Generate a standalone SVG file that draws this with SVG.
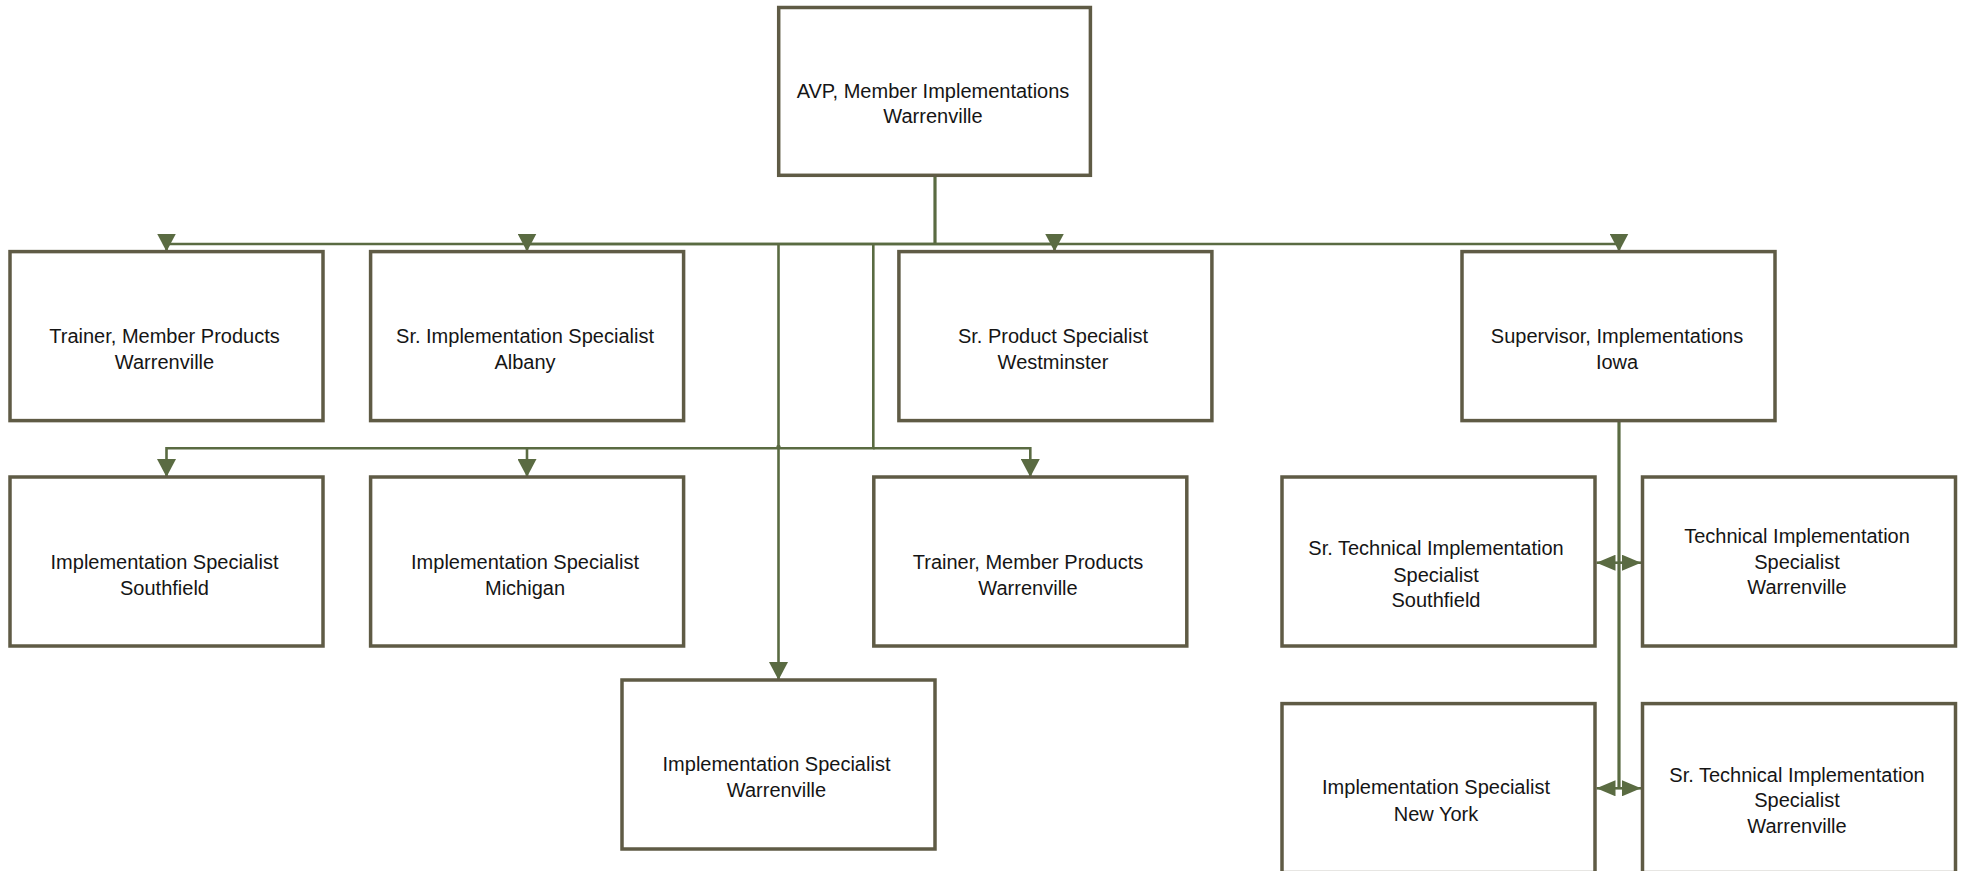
<svg xmlns="http://www.w3.org/2000/svg" width="1963" height="871" viewBox="0 0 1963 871">
<style>
.box{fill:#ffffff;stroke:#5f5b45;stroke-width:3.5}
.lbl{font-family:"Liberation Sans",Arial,sans-serif;font-size:20px;fill:#151515;text-anchor:middle}
.con{fill:none;stroke:#5a6b42;stroke-width:2.6}
.trunk{fill:none;stroke:#5a6b42;stroke-width:3.2}
</style>
<defs>
<marker id="arr" markerUnits="userSpaceOnUse" markerWidth="18" markerHeight="19" viewBox="0 0 17 18" refX="17" refY="9" orient="auto">
<path d="M0,0 L17,9 L0,18 Z" fill="#5a6b42"/>
</marker>
<marker id="arrs" markerUnits="userSpaceOnUse" markerWidth="19" markerHeight="16" viewBox="0 0 19 16" refX="19" refY="8" orient="auto">
<path d="M0,0 L19,8 L0,16 Z" fill="#5a6b42"/>
</marker>
</defs>

<g id="connectors">
<path class="trunk" d="M935,176 V244"/>
<path class="con" d="M935,244 H166.5 V251.5" marker-end="url(#arr)"/>
<path class="con" d="M935,244 H527 V251.5" marker-end="url(#arr)"/>
<path class="con" d="M935,244 H1054.5 V251.5" marker-end="url(#arr)"/>
<path class="con" d="M935,244 H1619 V251.5" marker-end="url(#arr)"/>
<path class="con" d="M778.5,244 V680" marker-end="url(#arr)"/>
<path class="con" d="M873.3,244 V448.3 H166.5 V477" marker-end="url(#arr)"/>
<path class="con" d="M527,448.3 V477" marker-end="url(#arr)"/>
<path class="con" d="M873.3,448.3 H1030.3 V477" marker-end="url(#arr)"/>
<circle cx="778.5" cy="447" r="2.2" fill="#5a6b42"/>
<path class="trunk" d="M1619,421 V788.3"/>
<path class="con" d="M1619,562.7 H1596.5" marker-end="url(#arrs)"/>
<path class="con" d="M1619,562.7 H1641" marker-end="url(#arrs)"/>
<path class="con" d="M1619,788.3 H1596.5" marker-end="url(#arrs)"/>
<path class="con" d="M1619,788.3 H1641" marker-end="url(#arrs)"/>
</g>

<g id="n-avp">
<rect class="box" x="778.7" y="7.5" width="311.7" height="167.8"/>
<text class="lbl" x="933" y="98.4">AVP, Member Implementations</text>
<text class="lbl" x="933" y="123.4">Warrenville</text>
</g>

<g id="n-trainer1">
<rect class="box" x="10" y="251.6" width="313" height="169"/>
<text class="lbl" x="164.5" y="342.5">Trainer, Member Products</text>
<text class="lbl" x="164.5" y="368.8">Warrenville</text>
</g>

<g id="n-albany">
<rect class="box" x="370.6" y="251.6" width="313" height="169"/>
<text class="lbl" x="525" y="342.5">Sr. Implementation Specialist</text>
<text class="lbl" x="525" y="368.8">Albany</text>
</g>

<g id="n-westminster">
<rect class="box" x="898.9" y="251.6" width="313" height="169"/>
<text class="lbl" x="1053" y="342.5">Sr. Product Specialist</text>
<text class="lbl" x="1053" y="368.8">Westminster</text>
</g>

<g id="n-supervisor">
<rect class="box" x="1462" y="251.6" width="313" height="169"/>
<text class="lbl" x="1617" y="342.5">Supervisor, Implementations</text>
<text class="lbl" x="1617" y="368.8">Iowa</text>
</g>

<g id="n-southfield">
<rect class="box" x="10" y="477" width="313" height="169"/>
<text class="lbl" x="164.5" y="569">Implementation Specialist</text>
<text class="lbl" x="164.5" y="595.4">Southfield</text>
</g>

<g id="n-michigan">
<rect class="box" x="370.6" y="477" width="313" height="169"/>
<text class="lbl" x="525" y="569">Implementation Specialist</text>
<text class="lbl" x="525" y="595.4">Michigan</text>
</g>

<g id="n-trainer2">
<rect class="box" x="873.8" y="477" width="313" height="169"/>
<text class="lbl" x="1028" y="569">Trainer, Member Products</text>
<text class="lbl" x="1028" y="595.4">Warrenville</text>
</g>

<g id="n-srtech-southfield">
<rect class="box" x="1282" y="477" width="313" height="169"/>
<text class="lbl" x="1436" y="555.3">Sr. Technical Implementation</text>
<text class="lbl" x="1436" y="581.6">Specialist</text>
<text class="lbl" x="1436" y="606.6">Southfield</text>
</g>

<g id="n-tech-warrenville">
<rect class="box" x="1642.5" y="477" width="313" height="169"/>
<text class="lbl" x="1797" y="542.8">Technical Implementation</text>
<text class="lbl" x="1797" y="569">Specialist</text>
<text class="lbl" x="1797" y="594.1">Warrenville</text>
</g>

<g id="n-impl-warrenville">
<rect class="box" x="622" y="680" width="313" height="169"/>
<text class="lbl" x="776.5" y="770.7">Implementation Specialist</text>
<text class="lbl" x="776.5" y="797">Warrenville</text>
</g>

<g id="n-newyork">
<rect class="box" x="1282" y="703.6" width="313" height="169"/>
<text class="lbl" x="1436" y="794.4">Implementation Specialist</text>
<text class="lbl" x="1436" y="820.7">New York</text>
</g>

<g id="n-srtech-warrenville">
<rect class="box" x="1642.5" y="703.6" width="313" height="169"/>
<text class="lbl" x="1797" y="781.9">Sr. Technical Implementation</text>
<text class="lbl" x="1797" y="807">Specialist</text>
<text class="lbl" x="1797" y="833.3">Warrenville</text>
</g>
</svg>
